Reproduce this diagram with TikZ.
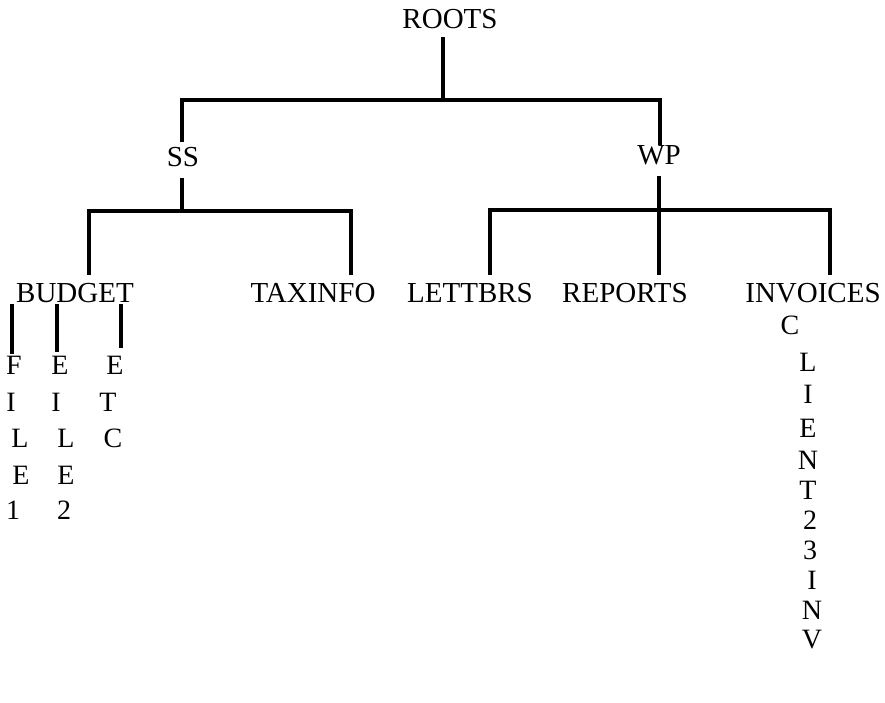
\documentclass[tikz,border=0pt]{standalone}
\usepackage{fontspec}
\setmainfont{Liberation Serif}
\begin{document}
\begin{tikzpicture}[x=1pt,y=-1pt,
  lbl/.style={inner sep=0pt,anchor=base,font=\fontsize{29}{29}\selectfont},
  ch/.style={inner sep=0pt,anchor=center,font=\fontsize{28}{28}\selectfont},
  branch/.style={line width=3.4pt,line cap=rect}]
\useasboundingbox (0,0) rectangle (885,702);
% labels
\node[lbl] (roots) at (450,28) {ROOTS};
\node[lbl] (ss) at (183,166) {SS};
\node[lbl] (wp) at (659,164) {WP};
\node[lbl] (budget) at (75,302) {BUDGET};
\node[lbl] (taxinfo) at (313,302) {TAXINFO};
\node[lbl] (lettbrs) at (470,302) {LETTBRS};
\node[lbl] (reports) at (625,302) {REPORTS};
\node[lbl] (invoices) at (813,302) {INVOICES};
% connector points
\coordinate (r0) at (443,39);
\coordinate (rL) at (182,100);
\coordinate (rR) at (660,100);
\coordinate (ssT) at (182,140);
\coordinate (wpT) at (660,143);
\coordinate (ss0) at (182,180);
\coordinate (sL) at (89,211);
\coordinate (sR) at (351,211);
\coordinate (bT) at (89,273);
\coordinate (tT) at (351,273);
\coordinate (wp0) at (659,178);
\coordinate (wL) at (490,210);
\coordinate (wR) at (830,210);
\coordinate (lT) at (490,273);
\coordinate (pT) at (659,273);
\coordinate (iT) at (830,273);
% tree lines
\draw[branch] (r0) -- (443,100);
\draw[branch] (ssT) -- (rL) -- (rR) -- (wpT);
\draw[branch] (ss0) -- (182,211);
\draw[branch] (bT) -- (sL) -- (sR) -- (tT);
\draw[branch] (wp0) -- (pT);
\draw[branch] (lT) -- (wL) -- (wR) -- (iT);
% budget sub-lines
\draw[branch] (12,306) -- (12,352);
\draw[branch] (57,306) -- (57,350);
\draw[branch] (121,306) -- (121,346);
% FILE1
\node[ch] (f1) at (14,365) {F};
\node[ch] (f2) at (11,402) {I};
\node[ch] (f3) at (20,438) {L};
\node[ch] (f4) at (21,475) {E};
\node[ch] (f5) at (13,510) {1};
% FILE2
\node[ch] (g1) at (60,365) {E};
\node[ch] (g2) at (56,402) {I};
\node[ch] (g3) at (66,438) {L};
\node[ch] (g4) at (66,475) {E};
\node[ch] (g5) at (64,510) {2};
% ETC
\node[ch] (e1) at (115,365) {E};
\node[ch] (e2) at (108,402) {T};
\node[ch] (e3) at (113,438) {C};
% CLIENT23INV
\node[ch] (c1) at (790,325) {C};
\node[ch] (c2) at (808,362) {L};
\node[ch] (c3) at (808,394) {I};
\node[ch] (c4) at (808,428) {E};
\node[ch] (c5) at (808,460) {N};
\node[ch] (c6) at (808,490) {T};
\node[ch] (c7) at (810,520) {2};
\node[ch] (c8) at (810,550) {3};
\node[ch] (c9) at (812,580) {I};
\node[ch] (c10) at (812,610) {N};
\node[ch] (c11) at (812,640) {V};
\end{tikzpicture}
\end{document}
